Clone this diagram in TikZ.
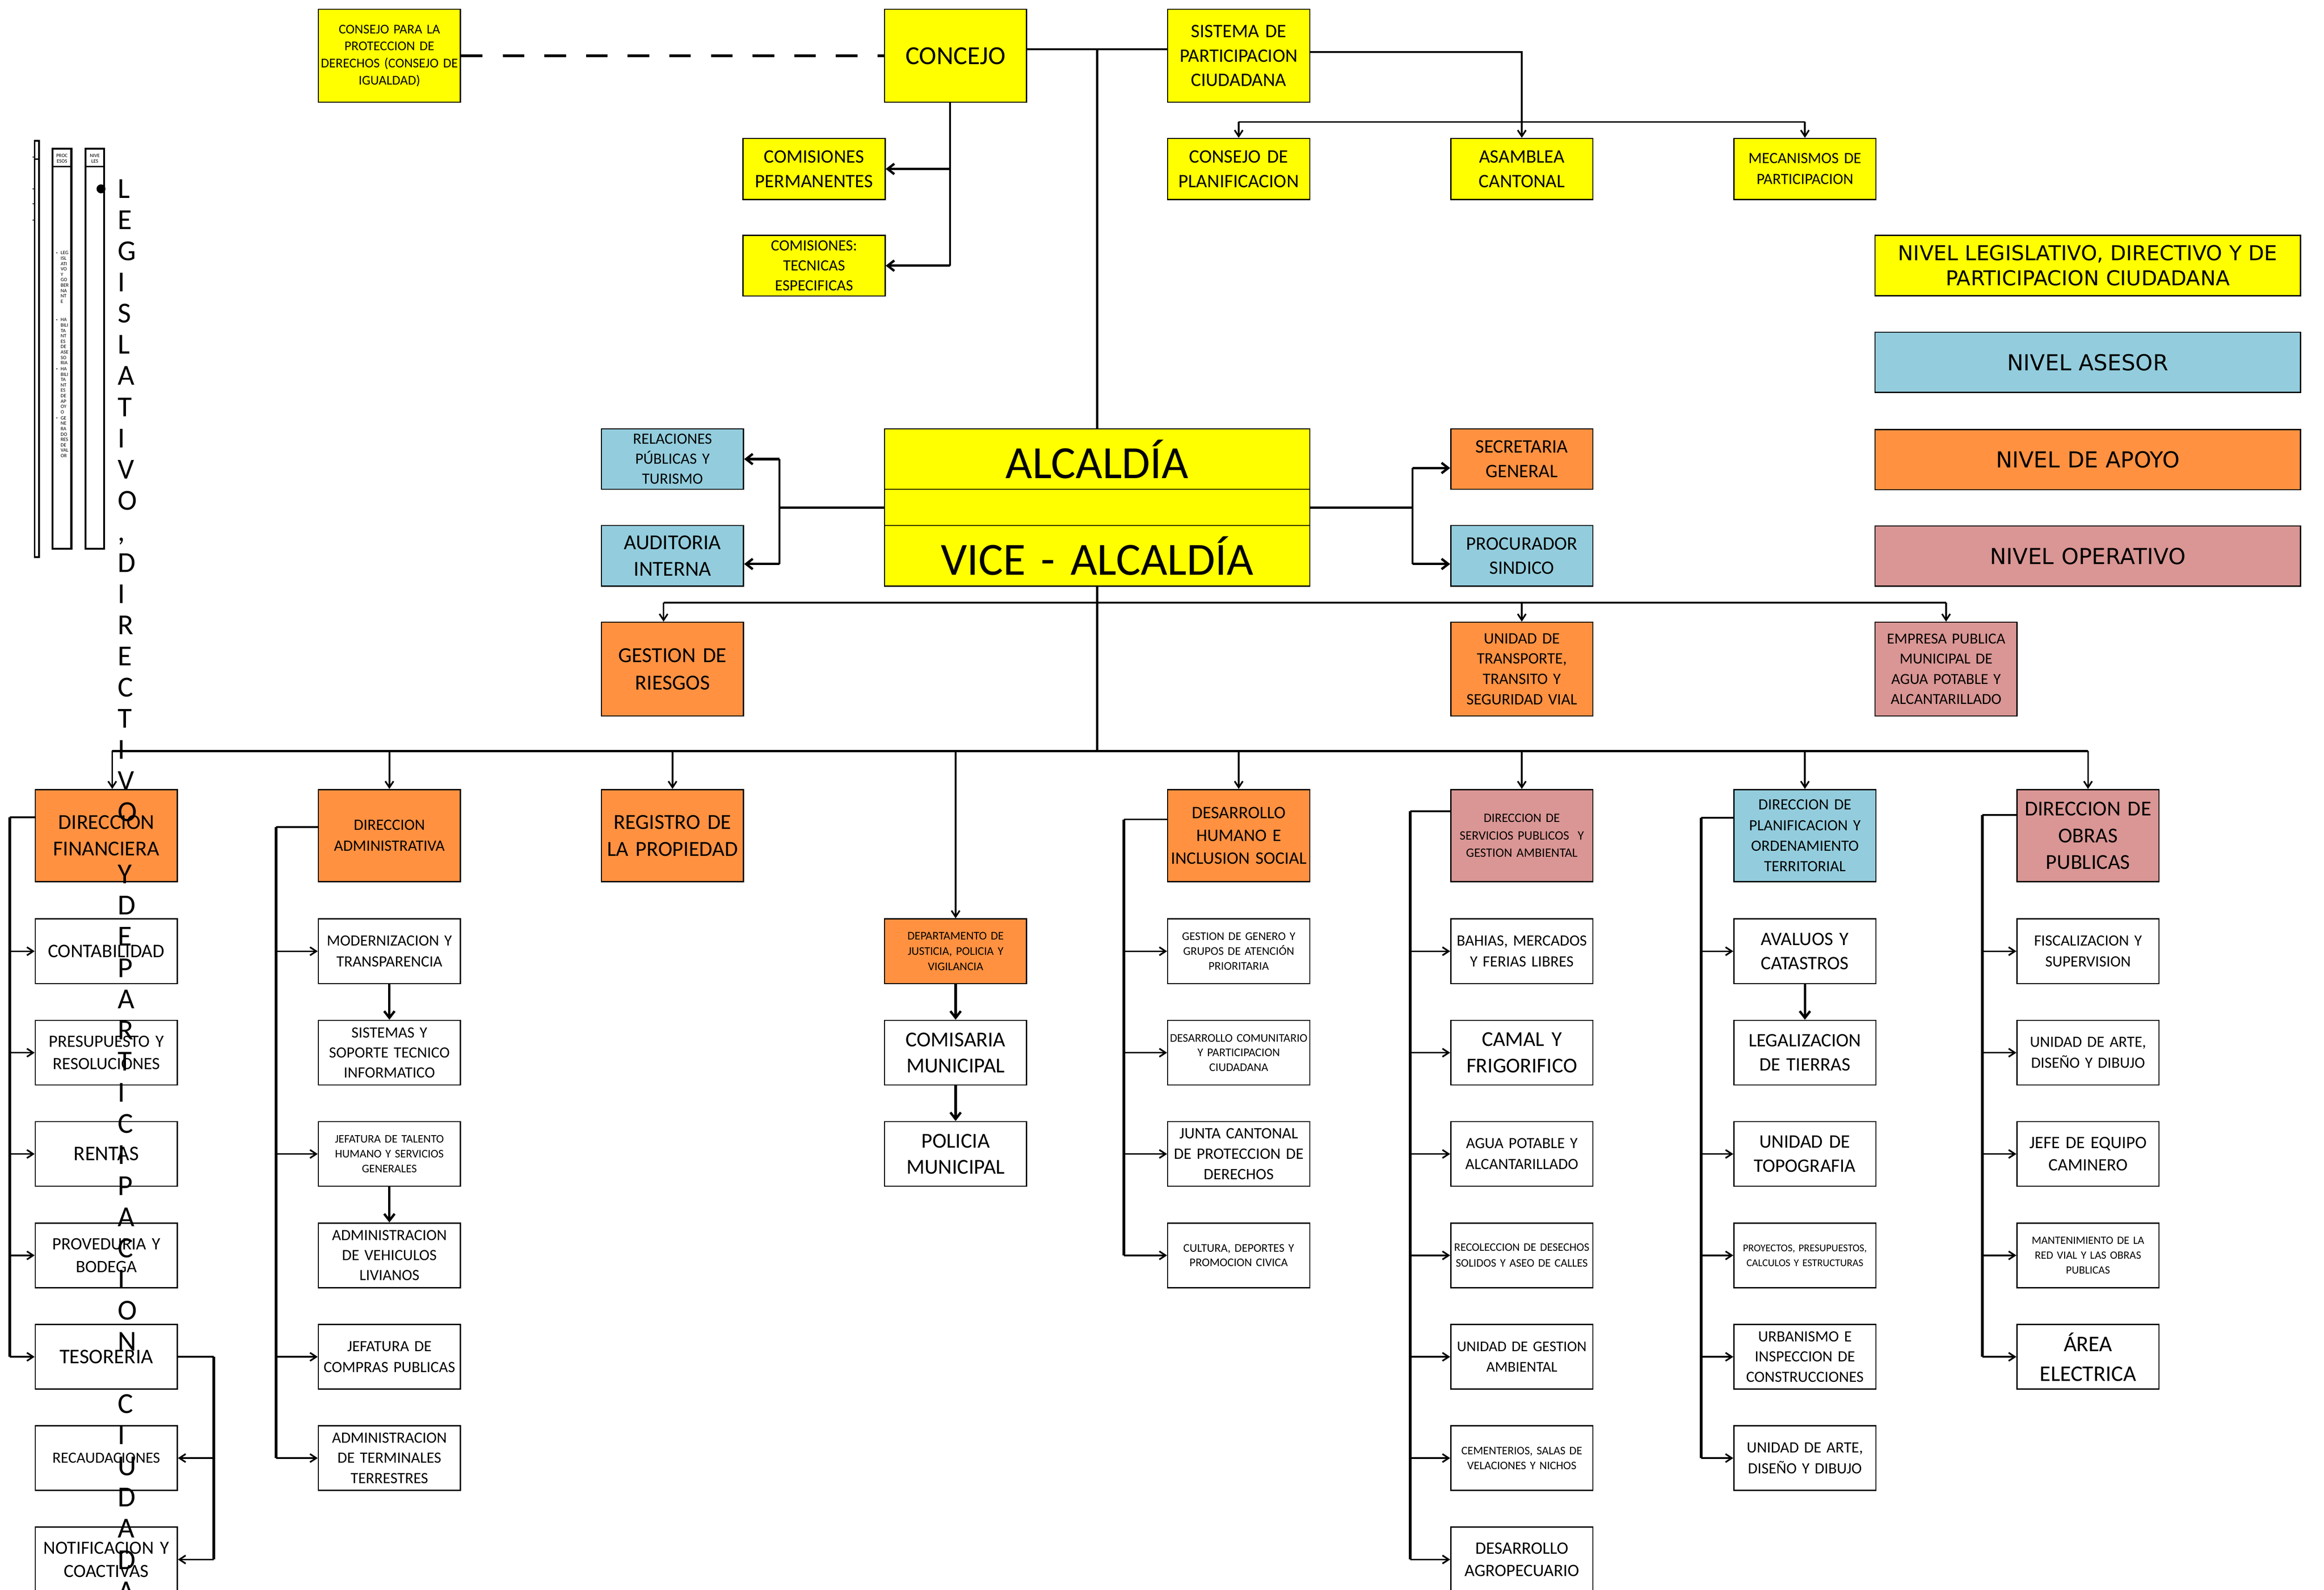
\documentclass[tikz,border=0pt]{standalone}
\usepackage{fontspec}
\setmainfont{Carlito}
\newfontfamily\verd{DejaVu Sans}
\usetikzlibrary{arrows.meta,calc}
\definecolor{yel}{RGB}{255,255,0}
\definecolor{blu}{RGB}{147,205,221}
\definecolor{ora}{RGB}{255,145,65}
\definecolor{pnk}{RGB}{217,150,148}
\newcommand\fz[2]{\fontsize{#1}{#2}\selectfont}
\begin{document}
\begin{tikzpicture}[x=1pt,y=-1pt,
 bx/.style={draw=black,line width=0.8pt,anchor=north west,minimum width=95.5pt,inner sep=1pt,text width=93.5pt,align=center},
 wb/.style={bx,fill=white,minimum height=43.5pt},
 hb/.style={bx,minimum height=62pt},
 lg/.style={draw=black,line width=0.8pt,anchor=north west,minimum width=286pt,minimum height=40.5pt,inner sep=1pt,text width=284pt,align=center},
 ln/.style={line width=1.2pt},
 arr/.style={line width=1.1pt,-{Straight Barb[length=4.2pt,width=5.5pt]}},
 tarr/.style={line width=1.6pt,-{Straight Barb[length=4.5pt,width=7pt]}},
 brk/.style={line width=1.9pt},
 dashln/.style={line width=1.8pt,dash pattern=on 14.5pt off 13.5pt},
 panelbox/.style={draw=black,line width=1.4pt},
 tiny/.style={inner sep=0pt,align=left,font=\fz{3.4}{3.62}}
]
\useasboundingbox (0,0) rectangle (1562.2,1069);
\fill[white] (0,0) rectangle (1562.2,1069);

% ---------- top row ----------
\node[bx,fill=yel,minimum height=62.6pt,font=\fz{9}{11.5}] (cpd) at (213.6,5.8) {CONSEJO PARA LA\\PROTECCION DE\\DERECHOS (CONSEJO DE\\IGUALDAD)};
\node[bx,fill=yel,minimum height=62.6pt,font=\fz{17.5}{20}] (con) at (594.2,5.8) {CONCEJO};
\node[bx,fill=yel,minimum height=62.6pt,font=\fz{12.8}{16.4}] (sis) at (784.5,5.8) {SISTEMA DE\\PARTICIPACION\\CIUDADANA};
\node[bx,fill=yel,minimum height=41pt,font=\fz{12.8}{16.4}] (cper) at (499.05,92.7) {COMISIONES\\PERMANENTES};
\node[bx,fill=yel,minimum height=40.7pt,font=\fz{10.5}{13.5}] (ctec) at (499.05,157.9) {COMISIONES:\\TECNICAS\\ESPECIFICAS};
\node[bx,fill=yel,minimum height=41pt,font=\fz{12.8}{16.4}] (cplan) at (784.5,92.7) {CONSEJO DE\\PLANIFICACION};
\node[bx,fill=yel,minimum height=41pt,font=\fz{12.8}{16.4}] (asam) at (974.8,92.7) {ASAMBLEA\\CANTONAL};
\node[bx,fill=yel,minimum height=41pt,font=\fz{10.5}{14}] (mec) at (1165.1,92.7) {MECANISMOS DE\\PARTICIPACION};

% ---------- legend ----------
\node[lg,fill=yel,font=\verd\fz{13.8}{17}] (lg1) at (1260,157.9) {NIVEL LEGISLATIVO, DIRECTIVO Y DE\\PARTICIPACION CIUDADANA};
\node[lg,fill=blu,font=\verd\fz{14.8}{17}] (lg2) at (1260,223) {NIVEL ASESOR};
\node[lg,fill=ora,font=\verd\fz{14.8}{17}] (lg3) at (1260,288.4) {NIVEL DE APOYO};
\node[lg,fill=pnk,font=\verd\fz{14.8}{17}] (lg4) at (1260,353.3) {NIVEL OPERATIVO};

% ---------- alcaldia ----------
\node[bx,fill=yel,minimum width=285.8pt,text width=283.8pt,minimum height=40.6pt,font=\fz{31}{34}] (alc) at (594.2,288) {ALCALDÍA};
\node[bx,fill=yel,minimum width=285.8pt,text width=283.8pt,minimum height=24.4pt] (amid) at (594.2,328.6) {};
\node[bx,fill=yel,minimum width=285.8pt,text width=283.8pt,minimum height=40.7pt,font=\fz{31}{34}] (vice) at (594.2,353) {VICE - ALCALDÍA};
\node[bx,fill=blu,minimum height=40.6pt,font=\fz{10.5}{13.4}] (rel) at (403.9,288) {RELACIONES\\PÚBLICAS Y\\TURISMO};
\node[bx,fill=blu,minimum height=40.7pt,font=\fz{14.3}{18}] (aud) at (403.9,353) {AUDITORIA\\INTERNA};
\node[bx,fill=ora,minimum height=40.6pt,font=\fz{12.8}{16.4}] (sec) at (974.8,288) {SECRETARIA\\GENERAL};
\node[bx,fill=blu,minimum height=40.7pt,font=\fz{12.8}{16.4}] (pro) at (974.8,353) {PROCURADOR\\SINDICO};
\node[bx,fill=ora,minimum height=63pt,font=\fz{14.4}{18.3}] (ges) at (403.9,418) {GESTION DE\\RIESGOS};
\node[bx,fill=ora,minimum height=63pt,font=\fz{10.7}{13.7}] (uni) at (974.8,418) {UNIDAD DE\\TRANSPORTE,\\TRANSITO Y\\SEGURIDAD VIAL};
\node[bx,fill=pnk,minimum height=63pt,font=\fz{10.3}{13.5}] (emp) at (1260,418) {EMPRESA PUBLICA\\MUNICIPAL DE\\AGUA POTABLE Y\\ALCANTARILLADO};

% ---------- headers ----------
\node[hb,fill=ora,font=\fz{14.3}{18}] (f0) at (23.3,530.5) {DIRECCION\\FINANCIERA};
\node[hb,fill=ora,font=\fz{10.6}{14}] (f1) at (213.6,530.5) {DIRECCION\\ADMINISTRATIVA};
\node[hb,fill=ora,font=\fz{14.4}{18}] (f2) at (403.9,530.5) {REGISTRO DE\\LA PROPIEDAD};
\node[hb,fill=ora,font=\fz{11.8}{15.4}] (f4) at (784.5,530.5) {DESARROLLO\\HUMANO E\\INCLUSION SOCIAL};
\node[hb,fill=pnk,font=\fz{8.6}{11.7}] (f5) at (974.8,530.5) {DIRECCION DE\\SERVICIOS PUBLICOS~ Y\\GESTION AMBIENTAL};
\node[hb,fill=blu,font=\fz{10.5}{13.8}] (f6) at (1165.1,530.5) {DIRECCION DE\\PLANIFICACION Y\\ORDENAMIENTO\\TERRITORIAL};
\node[hb,fill=pnk,font=\fz{14.3}{18}] (f7) at (1355.4,530.5) {DIRECCION DE\\OBRAS\\PUBLICAS};
\node[wb,fill=ora,font=\fz{7.9}{10.2}] (dep) at (594.2,617.5) {DEPARTAMENTO DE\\JUSTICIA, POLICIA Y\\VIGILANCIA};

% ---------- column 0 ----------
\node[wb,font=\fz{12.9}{15}] (c0a) at (23.3,617.5) {CONTABILIDAD};
\node[wb,font=\fz{11.6}{15}] (c0b) at (23.3,685.7) {PRESUPUESTO Y\\RESOLUCIONES};
\node[wb,font=\fz{14}{16}] (c0c) at (23.3,753.8) {RENTAS};
\node[wb,font=\fz{11.7}{15.5}] (c0d) at (23.3,822) {PROVEDURIA Y\\BODEGA};
\node[wb,font=\fz{14}{16}] (c0e) at (23.3,890.2) {TESORERIA};
\node[wb,font=\fz{10.4}{13}] (c0f) at (23.3,958.3) {RECAUDACIONES};
\node[wb,font=\fz{12.5}{15.5}] (c0g) at (23.3,1026.5) {NOTIFICACION Y\\COACTIVAS};

% ---------- column 1 ----------
\node[wb,font=\fz{10.5}{14}] (c1a) at (213.6,617.5) {MODERNIZACION Y\\TRANSPARENCIA};
\node[wb,font=\fz{10.5}{13.5}] (c1b) at (213.6,685.7) {SISTEMAS Y\\SOPORTE TECNICO\\INFORMATICO};
\node[wb,font=\fz{7.8}{10}] (c1c) at (213.6,753.8) {JEFATURA DE TALENTO\\HUMANO Y SERVICIOS\\GENERALES};
\node[wb,font=\fz{10.5}{13.5}] (c1d) at (213.6,822) {ADMINISTRACION\\DE VEHICULOS\\LIVIANOS};
\node[wb,font=\fz{10.5}{14}] (c1e) at (213.6,890.2) {JEFATURA DE\\COMPRAS PUBLICAS};
\node[wb,font=\fz{10.5}{13.5}] (c1f) at (213.6,958.3) {ADMINISTRACION\\DE TERMINALES\\TERRESTRES};

% ---------- column 3 ----------
\node[wb,font=\fz{14.3}{17.6}] (com) at (594.2,685.7) {COMISARIA\\MUNICIPAL};
\node[wb,font=\fz{14.3}{17.6}] (pol) at (594.2,753.8) {POLICIA\\MUNICIPAL};

% ---------- column 4 ----------
\node[wb,font=\fz{7.9}{9.9}] (c4a) at (784.5,617.5) {GESTION DE GENERO Y\\GRUPOS DE ATENCIÓN\\PRIORITARIA};
\node[wb,font=\fz{7.9}{9.9}] (c4b) at (784.5,685.7) {DESARROLLO COMUNITARIO\\Y PARTICIPACION\\CIUDADANA};
\node[wb,font=\fz{10.7}{13.75}] (c4c) at (784.5,753.8) {JUNTA CANTONAL\\DE PROTECCION DE\\DERECHOS};
\node[wb,font=\fz{7.9}{9.9}] (c4d) at (784.5,822) {CULTURA, DEPORTES Y\\PROMOCION CIVICA};

% ---------- column 5 ----------
\node[wb,font=\fz{10.5}{14}] (c5a) at (974.8,617.5) {BAHIAS, MERCADOS\\Y FERIAS LIBRES};
\node[wb,font=\fz{14.2}{18}] (c5b) at (974.8,685.7) {CAMAL Y\\FRIGORIFICO};
\node[wb,font=\fz{10.5}{14}] (c5c) at (974.8,753.8) {AGUA POTABLE Y\\ALCANTARILLADO};
\node[wb,font=\fz{7.7}{10.5}] (c5d) at (974.8,822) {RECOLECCION DE DESECHOS\\SOLIDOS Y ASEO DE CALLES};
\node[wb,font=\fz{10}{14}] (c5e) at (974.8,890.2) {UNIDAD DE GESTION\\AMBIENTAL};
\node[wb,font=\fz{7.8}{10}] (c5f) at (974.8,958.3) {CEMENTERIOS, SALAS DE\\VELACIONES Y NICHOS};
\node[wb,font=\fz{11.7}{15}] (c5g) at (974.8,1026.5) {DESARROLLO\\AGROPECUARIO};

% ---------- column 6 ----------
\node[wb,font=\fz{12.8}{16.2}] (c6a) at (1165.1,617.5) {AVALUOS Y\\CATASTROS};
\node[wb,font=\fz{12.8}{16.2}] (c6b) at (1165.1,685.7) {LEGALIZACION\\DE TIERRAS};
\node[wb,font=\fz{12.8}{16.2}] (c6c) at (1165.1,753.8) {UNIDAD DE\\TOPOGRAFIA};
\node[wb,font=\fz{7}{10}] (c6d) at (1165.1,822) {PROYECTOS, PRESUPUESTOS,\\CALCULOS Y ESTRUCTURAS};
\node[wb,font=\fz{10.5}{13.5}] (c6e) at (1165.1,890.2) {URBANISMO E\\INSPECCION DE\\CONSTRUCCIONES};
\node[wb,font=\fz{10.5}{14}] (c6f) at (1165.1,958.3) {UNIDAD DE ARTE,\\DISEÑO Y DIBUJO};

% ---------- column 7 ----------
\node[wb,font=\fz{10.5}{14}] (c7a) at (1355.4,617.5) {FISCALIZACION Y\\SUPERVISION};
\node[wb,font=\fz{10.5}{14}] (c7b) at (1355.4,685.7) {UNIDAD DE ARTE,\\DISEÑO Y DIBUJO};
\node[wb,font=\fz{11.7}{15}] (c7c) at (1355.4,753.8) {JEFE DE EQUIPO\\CAMINERO};
\node[wb,font=\fz{7.5}{10}] (c7d) at (1355.4,822) {MANTENIMIENTO DE LA\\RED VIAL Y LAS OBRAS\\PUBLICAS};
\node[wb,font=\fz{15}{20}] (c7e) at (1355.4,890.2) {ÁREA\\ELECTRICA};

% ---------- top connectors ----------
\coordinate (h33) at (0,33);
\coordinate (h35) at (0,35);
\coordinate (h82) at (0,82);
\draw[dashln] (cpd.east) -- (con.west);
\draw[ln] (con.east |- h33) -- (sis.west |- h33);
\draw[ln,line width=1.5pt] (alc.north |- h33) -- (alc.north);
\draw[arr] (sis.east |- h35) -| (asam.north);
\draw[ln] (cplan.north |- h82) -- (mec.north |- h82);
\draw[arr] (cplan.north |- h82) -- (cplan.north);
\draw[arr] (mec.north |- h82) -- (mec.north);
\coordinate (cvx) at (638.6,0);
\draw[ln,line width=1.5pt] (con.south -| cvx) -- (ctec.east -| cvx);
\draw[tarr] (cper.east -| cvx) -- (cper.east);
\draw[tarr] (ctec.east -| cvx) -- (ctec.east);

% ---------- alcaldia connectors ----------
\coordinate (lj) at (524,0);
\coordinate (rj) at (949.4,0);
\coordinate (audp) at ([yshift=-5.5pt]aud.east);
\coordinate (secp) at ([yshift=-6pt]sec.west);
\coordinate (prop) at ([yshift=-5.5pt]pro.west);
\draw[ln,line width=1.6pt] (amid.west) -- (amid.west -| lj);
\draw[ln] (rel.east -| lj) -- (audp -| lj);
\draw[tarr] (rel.east -| lj) -- (rel.east);
\draw[tarr] (audp -| lj) -- (audp);
\draw[ln,line width=1.6pt] (amid.east) -- (amid.east -| rj);
\draw[ln] (secp -| rj) -- (prop -| rj);
\draw[tarr] (secp -| rj) -- (secp);
\draw[tarr] (prop -| rj) -- (prop);

\coordinate (h405) at (0,405.2);
\coordinate (h505) at (0,505);
\coordinate (gx) at ([xshift=-6pt]ges.north);
\draw[ln,line width=1.5pt] (vice.south) -- (vice.south |- h505);
\draw[ln,line width=1.4pt] (gx |- h405) -- (emp.north |- h405);
\draw[arr] (gx |- h405) -- (gx);
\draw[arr] (uni.north |- h405) -- (uni.north);
\draw[arr] (emp.north |- h405) -- (emp.north);
\coordinate (fx) at ([xshift=4pt]f0.north);
\draw[ln,line width=1.4pt] (fx |- h505) -- (f7.north |- h505);
\draw[arr] (fx |- h505) -- (fx);
\foreach \n in {f1,f2,dep,f4,f5,f6,f7} \draw[arr] (\n.north |- h505) -- (\n.north);

% ---------- column brackets ----------
\coordinate (b0) at (6.5,549.5);
\draw[brk] (b0) -- (b0 |- c0e.west);
\draw[ln] (b0) -- (b0 -| f0.west);
\foreach \n in {c0a,c0b,c0c,c0d,c0e} \draw[arr] (b0 |- \n.west) -- (\n.west);
\coordinate (tb) at (143.6,0);
\draw[ln] (c0e.east) -- (c0e.east -| tb);
\draw[brk] (c0e.east -| tb) -- (c0g.east -| tb);
\draw[arr] (c0f.east -| tb) -- (c0f.east);
\draw[arr] (c0g.east -| tb) -- (c0g.east);

\coordinate (b1) at (185.5,556);
\draw[brk] (b1) -- (b1 |- c1f.west);
\draw[ln] (b1) -- (b1 -| f1.west);
\foreach \n in {c1a,c1c,c1e,c1f} \draw[arr] (b1 |- \n.west) -- (\n.west);
\draw[tarr] (c1a.south) -- (c1b.north);
\draw[tarr] (c1c.south) -- (c1d.north);

\draw[tarr] (dep.south) -- (com.north);
\draw[tarr] (com.south) -- (pol.north);

\coordinate (b4) at (755.5,551);
\draw[brk] (b4) -- (b4 |- c4d.west);
\draw[ln] (b4) -- (b4 -| f4.west);
\foreach \n in {c4a,c4b,c4c,c4d} \draw[arr] (b4 |- \n.west) -- (\n.west);

\coordinate (b5) at (948,545.5);
\draw[brk] (b5) -- (b5 |- c5g.west);
\draw[ln] (b5) -- (b5 -| f5.west);
\foreach \n in {c5a,c5b,c5c,c5d,c5e,c5f,c5g} \draw[arr] (b5 |- \n.west) -- (\n.west);

\coordinate (b6) at (1143.5,550);
\draw[brk] (b6) -- (b6 |- c6f.west);
\draw[ln] (b6) -- (b6 -| f6.west);
\foreach \n in {c6a,c6c,c6d,c6e,c6f} \draw[arr] (b6 |- \n.west) -- (\n.west);
\draw[tarr] (c6a.south) -- (c6b.north);

\coordinate (b7) at (1332.5,548);
\draw[brk] (b7) -- (b7 |- c7e.west);
\draw[ln] (b7) -- (b7 -| f7.west);
\foreach \n in {c7a,c7b,c7c,c7d,c7e} \draw[arr] (b7 |- \n.west) -- (\n.west);

% ---------- left panel ----------
\draw[line width=1.1pt] (23.3,94.6) rectangle (26.2,374.6);
\draw[line width=0.8pt] (23.3,107) -- (26.2,107);
\foreach \yy in {105.6,127,137,148} \fill (22.3,\yy) circle (0.45);
\draw[panelbox] (35.3,100) rectangle (48,369);
\draw[line width=1.2pt] (35.3,112) -- (48,112);
\draw[panelbox] (57.5,100) rectangle (70,369);
\draw[line width=1.2pt] (57.5,112) -- (70,112);
\node[tiny,align=center] (hproc) at (41.65,106.5) {PROC\\ESOS};
\node[tiny,align=center] (hniv) at (63.75,106.5) {NIVE\\LES};
\foreach \yy in {170,215,248,281} \fill (38.2,\yy) circle (0.4);
\node[tiny,anchor=north west] (p1) at (40.6,168.8) {LEG\\ISL\\ATI\\VO\\Y\\GO\\BER\\NA\\NT\\E};
\node[tiny,anchor=north west] (p2) at (40.6,213.8) {HA\\BILI\\TA\\NT\\ES\\DE\\ASE\\SO\\RIA};
\node[tiny,anchor=north west] (p3) at (40.6,246.8) {HA\\BILI\\TA\\NT\\ES\\DE\\AP\\OY\\O};
\node[tiny,anchor=north west] (p4) at (40.6,279.8) {GE\\NE\\RA\\DO\\RES\\DE\\VAL\\OR};
\fill (67.9,127) circle (3);

% ---------- big vertical text ----------
\foreach \ch/\i in {L/0,E/1,G/2,I/3,S/4,L/5,A/6,T/7,I/8,V/9,O/10,{,}/11,D/12,I/13,R/14,E/15,C/16,T/17,I/18,V/19,O/20,Y/22,D/23,E/24,P/25,A/26,R/27,T/28,I/29,C/30,I/31,P/32,A/33,C/34,I/35,O/36,N/37,C/39,I/40,U/41,D/42,A/43,D/44,A/45}
  \node[anchor=base west,inner sep=0pt,font=\fz{19.5}{21}] (vt\i) at (79,133.3+20.95*\i) {\ch};
\end{tikzpicture}
\end{document}
